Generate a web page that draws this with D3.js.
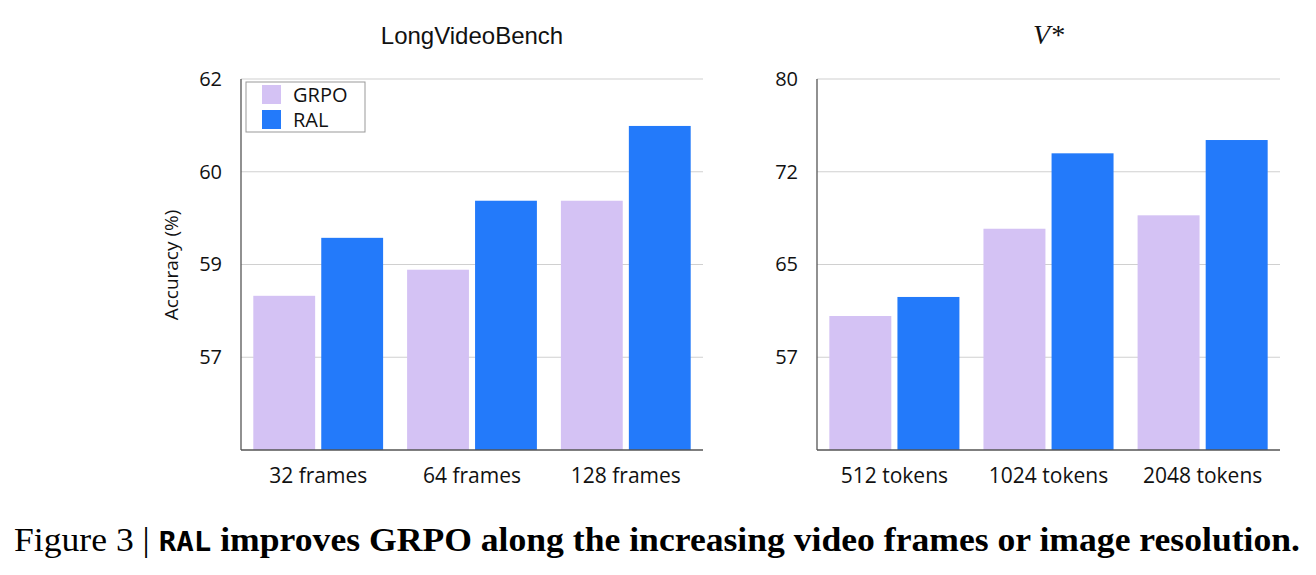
<!DOCTYPE html>
<html>
<head>
<meta charset="utf-8">
<script src="https://cdn.jsdelivr.net/npm/d3@7"></script>
<style>
  body { margin: 0; background: #fff; }
  svg { display: block; }
</style>
</head>
<body>
<svg id="chart" width="1316" height="575"></svg>
<script>
// data
var seriesNames = ["GRPO", "RAL"];
var seriesColors = ["#d4c2f4", "#237afa"];

var frameCats = ["32 frames", "64 frames", "128 frames"];
var frameGrpo = [58.26, 58.71, 59.90];
var frameRal = [59.26, 59.90, 61.19];
var frameTicks = [55.6, 57.2, 58.8, 60.4, 62];

var tokenCats = ["512 tokens", "1024 tokens", "2048 tokens"];
var tokenGrpo = [60.58, 67.73, 68.83];
var tokenRal = [62.14, 73.91, 75.0];
var tokenTicks = [49.6, 57.2, 64.8, 72.4, 80];

var sans = "'Open Sans', Roboto, sans-serif";
var svg = d3.select("#chart");

function drawPanel(opts){
	var top = 79, bottom = 450;
	var g = svg.append("g");

	var y = d3.scaleLinear()
		.domain([opts.ticks[0], opts.ticks[opts.ticks.length - 1]])
		.range([bottom, top]);

	var x0 = d3.scaleBand()
		.domain(opts.cats)
		.range([opts.left, opts.right])
		.paddingInner(0.156)
		.paddingOuter(0.08);

	var x1 = d3.scaleBand()
		.domain(seriesNames)
		.range([0, x0.bandwidth()])
		.paddingInner(0.09);

	// gridlines
	g.selectAll("line.grid")
		.data(opts.ticks.slice(1))
		.enter()
		.append("line")
		.attr("x1", opts.left)
		.attr("x2", opts.right)
		.attr("y1", function(d){ return y(d); })
		.attr("y2", function(d){ return y(d); })
		.attr("stroke", "#d0d0d0")
		.attr("stroke-width", 1.2);

	// y axis labels
	var yAxis = d3.axisLeft(y)
		.tickValues(opts.ticks.slice(1))
		.tickFormat(d3.format(".0f"))
		.tickSize(0)
		.tickPadding(19);
	var ya = g.append("g")
		.attr("transform", "translate(" + opts.left + ",0)")
		.call(yAxis);
	ya.select(".domain").remove();
	ya.selectAll("text")
		.attr("font-family", sans)
		.attr("font-size", 20)
		.attr("fill", "#111");

	// bars
	var rows = opts.cats.map(function(c, i){
		return { cat: c, vals: [opts.grpo[i], opts.ral[i]] };
	});
	g.selectAll("g.grp")
		.data(rows)
		.enter()
		.append("g")
		.attr("transform", function(d){ return "translate(" + x0(d.cat) + ",0)"; })
		.selectAll("rect")
		.data(function(d){
			return d.vals.map(function(v, k){ return { name: seriesNames[k], v: v, k: k }; });
		})
		.enter()
		.append("rect")
		.attr("x", function(d){ return x1(d.name); })
		.attr("width", x1.bandwidth())
		.attr("y", function(d){ return y(d.v); })
		.attr("height", function(d){ return bottom - y(d.v); })
		.attr("fill", function(d){ return seriesColors[d.k]; });

	// axis lines
	g.append("line")
		.attr("x1", opts.left).attr("x2", opts.left)
		.attr("y1", top).attr("y2", bottom)
		.attr("stroke", "#555").attr("stroke-width", 1.3);
	g.append("line")
		.attr("x1", opts.left).attr("x2", opts.right)
		.attr("y1", bottom).attr("y2", bottom)
		.attr("stroke", "#555").attr("stroke-width", 1.3);

	// x labels
	var xAxis = d3.axisBottom(x0).tickSize(0).tickPadding(18);
	var xa = g.append("g")
		.attr("transform", "translate(0," + bottom + ")")
		.call(xAxis);
	xa.select(".domain").remove();
	xa.selectAll("text")
		.attr("font-family", sans)
		.attr("font-size", 21)
		.attr("fill", "#111");

	// title
	var t = g.append("text")
		.attr("x", (opts.left + opts.right) / 2)
		.attr("y", 44)
		.attr("text-anchor", "middle")
		.attr("fill", "#111")
		.text(opts.title);
	if(opts.serifTitle){
		t.attr("font-family", "'Liberation Serif', serif")
			.attr("font-style", "italic")
			.attr("font-size", 28);
	}
	else{
		t.attr("font-family", "'Liberation Sans', Arial, sans-serif")
			.attr("font-size", 24);
	}
	return g;
}

drawPanel({
	cats: frameCats, grpo: frameGrpo, ral: frameRal, ticks: frameTicks,
	left: 241, right: 703, title: "LongVideoBench"
});
drawPanel({
	cats: tokenCats, grpo: tokenGrpo, ral: tokenRal, ticks: tokenTicks,
	left: 817, right: 1280, title: "V*", serifTitle: true
});

// y axis title
svg.append("text")
	.attr("transform", "translate(178,265) rotate(-90)")
	.attr("text-anchor", "middle")
	.attr("font-family", sans)
	.attr("font-size", 19)
	.attr("fill", "#111")
	.text("Accuracy (%)");

// legend
var legend = svg.append("g").attr("transform", "translate(246,82)");
legend.append("rect")
	.attr("width", 119).attr("height", 50)
	.attr("fill", "#fff")
	.attr("stroke", "#999").attr("stroke-width", 1);
legend.selectAll("g.item")
	.data(seriesNames)
	.enter()
	.append("g")
	.attr("transform", function(d, i){ return "translate(16," + (3 + i * 25) + ")"; })
	.each(function(d, i){
		var it = d3.select(this);
		it.append("rect").attr("width", 19).attr("height", 19).attr("fill", seriesColors[i]);
		it.append("text")
			.attr("x", 31).attr("y", 17)
			.attr("font-family", sans)
			.attr("font-size", 20)
			.attr("fill", "#111")
			.text(d);
	});

// caption
var cap = svg.append("text")
	.attr("x", 14)
	.attr("y", 551)
	.attr("font-family", "'Liberation Serif', serif")
	.attr("font-size", 33)
	.attr("fill", "#000");
cap.append("tspan").text("Figure 3 | ");
cap.append("tspan")
	.attr("font-family", "'DejaVu Sans Mono', monospace")
	.attr("font-weight", "bold")
	.attr("font-size", 27)
	.text("RAL");
cap.append("tspan")
	.attr("font-weight", "bold")
	.text(" improves GRPO along the increasing video frames or image resolution.");
cap.attr("textLength", 1286).attr("lengthAdjust", "spacingAndGlyphs");
</script>
</body>
</html>
